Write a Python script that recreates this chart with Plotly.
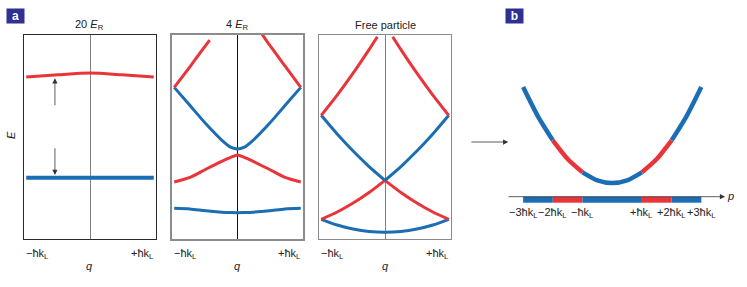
import plotly.graph_objects as go

W, H = 747, 287
RED = "#e9343a"
BLUE = "#1b6db4"
NAVY = "#2e3192"
FONT = "Liberation Sans, Arial, sans-serif"

# ---------------- data ----------------
# panel a1: 20 E_R
q1 = [-1, -0.5, 0, 0.5, 1]
p1_red = [11.95, 12.12, 12.25, 12.12, 11.95]
p1_blue = [4.2, 4.2, 4.2, 4.2, 4.2]

# panel a2: 4 E_R
q2 = [-1, -0.75, -0.5, -0.25, -0.1, 0, 0.1, 0.25, 0.5, 0.75, 1]
p2_blue_low = [1.85, 1.80, 1.65, 1.55, 1.52, 1.51, 1.52, 1.55, 1.65, 1.80, 1.85]
p2_red_low = [3.87, 4.22, 4.85, 5.45, 5.78, 5.95, 5.78, 5.45, 4.85, 4.22, 3.87]
p2_blue_up = [11.15, 9.75, 8.35, 7.10, 6.53, 6.41, 6.53, 7.10, 8.35, 9.75, 11.15]
q2_red_top_l = [-1, -0.75, -0.6, -0.44]
p2_red_top_l = [11.15, 12.75, 13.75, 14.79]
q2_red_top_r = [0.38, 0.5, 0.75, 1]
p2_red_top_r = [15.3, 14.45, 12.8, 11.15]

# panel a3: free particle
q3 = [-1, -0.75, -0.5, -0.25, 0, 0.25, 0.5, 0.75, 1]
p3_blue_low = [1, 0.56, 0.25, 0.06, 0, 0.06, 0.25, 0.56, 1]
q3_l = [-1, -0.75, -0.5, -0.25, 0]
q3_r = [0, 0.25, 0.5, 0.75, 1]
p3_red_mid_l = [1, 1.56, 2.25, 3.06, 4]
p3_red_mid_r = [4, 3.06, 2.25, 1.56, 1]
p3_blue_up_l = [9, 7.56, 6.25, 5.06, 4]
p3_blue_up_r = [4, 5.06, 6.25, 7.56, 9]
q3_red_top_l = [-1, -0.75, -0.5, -0.25, -0.12]
p3_red_top_l = [9, 10.56, 12.25, 14.06, 15.05]
q3_red_top_r = [0.12, 0.25, 0.5, 0.75, 1]
p3_red_top_r = [15.05, 14.06, 12.25, 10.56, 9]

# panel b: parabola over momentum p
pb_p = [-3, -2.5, -2, -1.5, -1, -0.5, 0, 0.5, 1, 1.5, 2, 2.5, 3]
pb_E = [9, 6.25, 4, 2.25, 1, 0.25, 0, 0.25, 1, 2.25, 4, 6.25, 9]
pb_bounds = [-3, -2, -1, 1, 2, 3]
pb_colors = [BLUE, RED, BLUE, RED, BLUE]
pb_tick_pos = [-3, -2, -1, 1, 2, 3]
pb_tick_text = ["−3ħk<sub>L</sub>", "−2ħk<sub>L</sub>", "−ħk<sub>L</sub>",
                "+ħk<sub>L</sub>", "+2ħk<sub>L</sub>", "+3ħk<sub>L</sub>"]

titles = ["20 <i>E</i><sub>R</sub>", "4 <i>E</i><sub>R</sub>", "Free particle"]

# ---------------- layout helpers ----------------
def xd(a, b):
    return [a / W, b / W]

def yd(top, bottom):
    return [1 - bottom / H, 1 - top / H]

def py(p):
    return 1 - p / H

X_RANGE = [-1.035, 1.035]
E_RANGE = [-0.515, 15.18]
boxes = [(24, 156), (172, 303), (319, 451)]
box_colors = ["#2a2a2a", "#8c8c8c", "#8a8a8a"]
box_widths = [1, 1.5, 1]
zl_colors = ["#808080", "#111111", "#808080"]

fig = go.Figure()

def line(x, y, color, width, ax, shape="spline"):
    fig.add_trace(go.Scatter(x=x, y=y, mode="lines",
                             line=dict(color=color, width=width, shape=shape, smoothing=0.7),
                             xaxis="x" + ("" if ax == 1 else str(ax)),
                             yaxis="y" + ("" if ax == 1 else str(ax)),
                             hoverinfo="skip", showlegend=False))

# panel 1
line(q1, p1_red, RED, 3, 1)
line(q1, p1_blue, BLUE, 4, 1)
# panel 2
line(q2, p2_blue_low, BLUE, 3, 2)
line(q2, p2_red_low, RED, 3, 2)
line(q2, p2_blue_up, BLUE, 3, 2)
line(q2_red_top_l, p2_red_top_l, RED, 3, 2)
line(q2_red_top_r, p2_red_top_r, RED, 3, 2)
# panel 3
line(q3, p3_blue_low, BLUE, 3, 3)
line(q3_l, p3_red_mid_l, RED, 3, 3)
line(q3_r, p3_red_mid_r, RED, 3, 3)
line(q3_l, p3_blue_up_l, BLUE, 3, 3)
line(q3_r, p3_blue_up_r, BLUE, 3, 3)
line(q3_red_top_l, p3_red_top_l, RED, 3, 3)
line(q3_red_top_r, p3_red_top_r, RED, 3, 3)

# panel b parabola segments
for i, c in enumerate(pb_colors):
    lo, hi = pb_bounds[i], pb_bounds[i + 1]
    xs = [p for p in pb_p if lo <= p <= hi]
    ys = [pb_E[pb_p.index(p)] for p in xs]
    line(xs, ys, c, 4.5, 4)
# panel b momentum bar
BAR_E = -1.565
for i, c in enumerate(pb_colors):
    line([pb_bounds[i], pb_bounds[i + 1]], [BAR_E, BAR_E], c, 6, 4, shape="linear")

layout = dict(width=W, height=H, margin=dict(l=0, r=0, t=0, b=0),
              paper_bgcolor="white", plot_bgcolor="white",
              font=dict(family=FONT, size=11, color="#222"))

for i, (a, b) in enumerate(boxes, start=1):
    k = "" if i == 1 else str(i)
    common = dict(showline=True, mirror=True, linecolor=box_colors[i - 1],
                  linewidth=box_widths[i - 1], showticklabels=False, ticks="", showgrid=False)
    layout["xaxis" + k] = dict(domain=xd(a, b), range=X_RANGE, anchor="y" + k,
                               zeroline=True, zerolinecolor=zl_colors[i - 1], zerolinewidth=1,
                               **common)
    layout["yaxis" + k] = dict(domain=yd(35, 239), range=E_RANGE, anchor="x" + k,
                               zeroline=False, **common)

PB_X = [-4.956, 4.471]
PB_Y = [-4.405, 11.528]
layout["xaxis4"] = dict(domain=xd(465, 745), range=PB_X, anchor="y4", visible=False)
layout["yaxis4"] = dict(domain=yd(60, 230), range=PB_Y, anchor="x4", visible=False)

ann = []

def text(t, x, y, xref, yref, xanchor="center", size=11, **kw):
    ann.append(dict(text=t, x=x, y=y, xref=xref, yref=yref, xanchor=xanchor,
                    yanchor="middle", showarrow=False, font=dict(size=size), **kw))

for i, (a, b) in enumerate(boxes, start=1):
    k = "" if i == 1 else str(i)
    text(titles[i - 1], 0.5, py(25), "x%s domain" % k, "paper")
    text("−ħk<sub>L</sub>", 0, py(254), "x%s domain" % k, "paper", xanchor="left")
    text("+ħk<sub>L</sub>", 1, py(254), "x%s domain" % k, "paper", xanchor="right")
    text("<i>q</i>", 0.5, py(266), "x%s domain" % k, "paper")

text("<i>E</i>", 11 / W, py(135), "paper", "paper", textangle=-90)

def arrow(x, y, ax, ay, xr, yr):
    ann.append(dict(x=x, y=y, ax=ax, ay=ay, xref=xr, yref=yr, axref=xr, ayref=yr,
                    text="", showarrow=True, arrowhead=2, arrowsize=1.3, arrowwidth=0.8,
                    arrowcolor="#333"))

# panel-1 arrows
arrow(-0.55, 11.85, -0.55, 9.66, "x", "y")
arrow(-0.55, 4.41, -0.55, 6.58, "x", "y")

# panel b axis arrow and labels
arrow(3.80, -1.284, -3.54, -1.284, "x4", "y4")
text("<i>p</i>", 3.97, -1.2, "x4", "y4")
for pos, t in zip(pb_tick_pos, pb_tick_text):
    text(t, pos, -2.81, "x4", "y4")
# arrow between panels
arrow(-3.5, 3.84, -4.79, 3.84, "x4", "y4")

# panel letters
for letter, cx in (("a", 15.5), ("b", 514.5)):
    ann.append(dict(text="<b>%s</b>" % letter, x=cx / W, y=py(16), xref="paper", yref="paper",
                    xanchor="center", yanchor="middle",
                    showarrow=False, bgcolor=NAVY, width=17, height=14, borderpad=0,
                    font=dict(size=12, color="white")))

layout["annotations"] = ann
fig.update_layout(**layout)
fig.write_html("out.html", config={"displayModeBar": False},
               post_script="document.body.style.margin='0';")
